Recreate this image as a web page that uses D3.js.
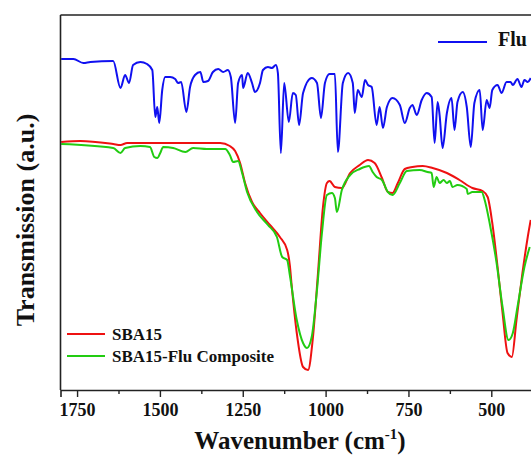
<!DOCTYPE html>
<html>
<head>
<meta charset="utf-8">
<script src="https://cdn.jsdelivr.net/npm/d3@7"></script>
<style>
  html, body { margin: 0; padding: 0; background: #fff; }
  svg { display: block; }
  text { font-family: "Liberation Serif", "Times New Roman", serif; font-weight: bold; fill: #111; }
</style>
</head>
<body>
<svg id="chart" width="531" height="457"></svg>
<script>
// Wavenumber (cm-1) and transmission (a.u.)
const fluWavenumber = [1798,1761,1731,1710,1641,1619,1605,1593,1581,1559,1539,1523,1514,1508,1502,1493,1484,1469,1454,1445,1436,1420,1409,1394,1378,1369,1355,1340,1324,1309,1295,1286,1273,1264,1252,1249,1235,1222,1213,1198,1189,1174,1162,1150,1144,1135,1125,1111,1099,1090,1080,1068,1042,1026,1014,1002,988,972,963,948,932,918,912,903,891,881,872,861,846,837,827,815,798,776,761,746,738,725,710,695,680,671,662,656,647,634,620,611,602,586,574,562,551,535,526,514,505,497,481,469,454,442,435,421,409,400,390,381];
const fluT = [331,331,327,328,329,302,315,307,325,328,326,320,273,283,267,300,313,313,311,307,308,278,303,315,318,308,309,318,321,318,320,313,267,307,315,302,317,307,298,307,320,323,322,325,317,237,307,268,297,295,265,297,312,307,272,307,316,316,238,307,317,307,277,300,293,310,305,303,265,283,262,283,292,285,267,282,285,275,290,297,293,247,288,275,242,277,292,260,288,298,283,243,287,300,260,290,282,300,305,297,308,308,305,311,303,310,308,312];

const sbaWavenumber = [1798,1740,1641,1619,1599,1400,1318,1289,1273,1258,1243,1222,1198,1168,1138,1116,1108,1102,1087,1068,1053,1039,1023,1008,996,988,972,951,926,897,872,852,830,812,798,782,761,738,707,677,634,596,557,526,511,497,481,466,451,438,424,406,390,381];
const sbaT = [248,249,246,245,247,247,247,244,239,227,207,188,177,165,153,140,125,103,57,23,20,50,117,183,207,209,203,202,217,225,230,227,212,198,197,207,221,223,224,222,217,210,202,199,193,167,123,77,37,33,70,117,153,170];

const compWavenumber = [1798,1641,1619,1605,1559,1530,1517,1508,1499,1490,1460,1423,1400,1358,1303,1289,1279,1264,1252,1237,1207,1174,1147,1131,1116,1108,1087,1068,1056,1042,1026,1011,996,981,972,966,951,926,897,869,858,846,830,812,798,776,755,716,692,680,674,665,656,644,634,625,617,602,574,571,557,529,520,505,484,466,448,435,421,400,384];
const compT = [246,242,237,242,244,243,233,232,237,243,242,238,242,241,241,235,228,229,217,198,178,165,153,133,130,115,70,47,42,53,100,157,195,197,192,178,200,215,221,224,218,213,210,198,195,207,219,220,218,217,203,213,207,210,207,209,203,205,201,196,198,198,190,167,127,83,50,57,83,123,143];

const xTicksMajor = [1750, 1500, 1250, 1000, 750, 500];
const xTicksMinor = [1625, 1375, 1125, 875, 625, 375];
const seriesNames = ["Flu", "SBA15", "SBA15-Flu Composite"];
const seriesColors = ["#1010f0", "#ee1111", "#22cc11"];

const svg = d3.select("#chart");
const mLeft = 60.5, mTop = 15, mBottom = 390, plotRight = 541;

const x = d3.scaleLinear().domain([1800, 350]).range([mLeft, plotRight]);
const y = d3.scaleLinear().domain([0, 375]).range([mBottom, mTop]);

svg.append("defs").append("clipPath").attr("id", "clip")
  .append("rect").attr("x", mLeft).attr("y", mTop).attr("width", plotRight - mLeft).attr("height", mBottom - mTop);

const line = d3.line().x(d => x(d[0])).y(d => y(d[1])).curve(d3.curveMonotoneX);

const series = [
  d3.zip(fluWavenumber, fluT),
  d3.zip(sbaWavenumber, sbaT),
  d3.zip(compWavenumber, compT)
];

const g = svg.append("g").attr("clip-path", "url(#clip)");
[0, 1, 2].forEach(i => {
  g.append("path")
    .datum(series[i].slice().sort((a, b) => b[0] - a[0]))
    .attr("d", line)
    .attr("fill", "none")
    .attr("stroke", seriesColors[i])
    .attr("stroke-width", 2)
    .attr("stroke-linejoin", "round");
});

// frame
svg.append("line").attr("x1", mLeft).attr("x2", 531).attr("y1", mTop).attr("y2", mTop)
  .attr("stroke", "#222").attr("stroke-width", 1.6);
svg.append("line").attr("x1", mLeft).attr("x2", mLeft).attr("y1", mTop).attr("y2", mBottom)
  .attr("stroke", "#222").attr("stroke-width", 1.6);

// x axis
const xAxis = d3.axisBottom(x).tickValues(xTicksMajor).tickSize(7).tickPadding(6).tickFormat(d3.format("d"));
const ax = svg.append("g").attr("transform", `translate(0,${mBottom})`).call(xAxis);
ax.select(".domain").attr("stroke", "#222").attr("stroke-width", 1.6);
ax.selectAll(".tick line").attr("stroke", "#222").attr("stroke-width", 1.4);
ax.selectAll(".tick text").style("font-size", "18px").attr("fill", "#111")
  .style("font-family", '"Liberation Serif", "Times New Roman", serif').style("font-weight", "bold");

const axMinor = svg.append("g").attr("transform", `translate(0,${mBottom})`)
  .call(d3.axisBottom(x).tickValues(xTicksMinor).tickSize(4).tickFormat(""));
axMinor.select(".domain").remove();
axMinor.selectAll(".tick line").attr("stroke", "#222").attr("stroke-width", 1.4);

// axis titles
const xt = svg.append("text").attr("x", 300).attr("y", 449).attr("text-anchor", "middle")
  .style("font-size", "25px");
xt.append("tspan").text("Wavenumber (cm");
xt.append("tspan").text("-1").style("font-size", "15px").attr("dy", -10);
xt.append("tspan").text(")").attr("dy", 10);

svg.append("text").attr("transform", "translate(34,220) rotate(-90)")
  .attr("text-anchor", "middle").style("font-size", "26px").text("Transmission (a.u.)");

// legends
svg.append("line").attr("x1", 438).attr("x2", 487).attr("y1", 42).attr("y2", 42)
  .attr("stroke", seriesColors[0]).attr("stroke-width", 2);
svg.append("text").attr("x", 498).attr("y", 46).style("font-size", "20px").text(seriesNames[0]);

[1, 2].forEach((i, k) => {
  const ly = 334 + k * 22;
  svg.append("line").attr("x1", 67).attr("x2", 105).attr("y1", ly).attr("y2", ly)
    .attr("stroke", seriesColors[i]).attr("stroke-width", 2);
  svg.append("text").attr("x", 112).attr("y", ly + 6).style("font-size", "17px").text(seriesNames[i]);
});
</script>
</body>
</html>
